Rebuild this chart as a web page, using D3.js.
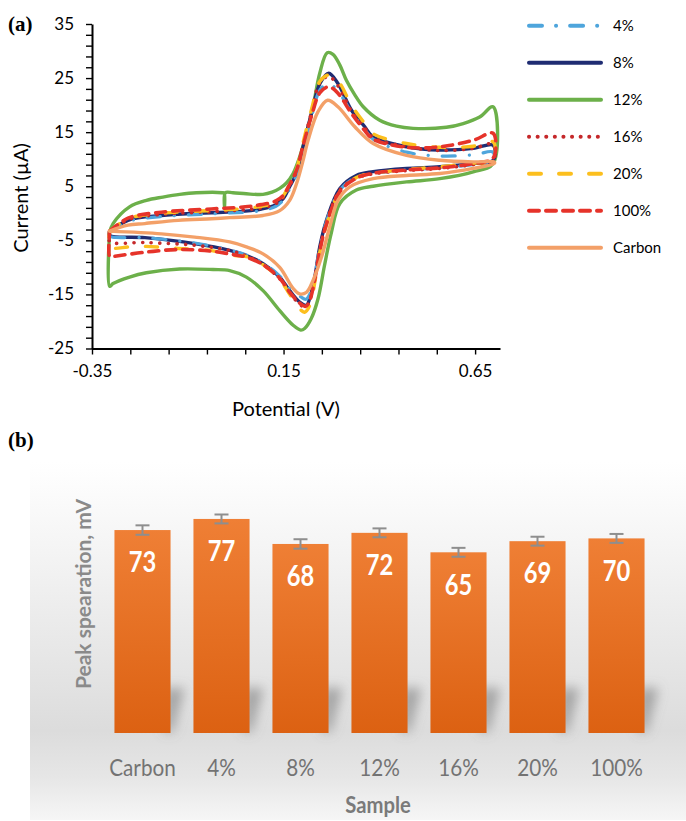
<!DOCTYPE html>
<html><head><meta charset="utf-8">
<script src="https://cdn.jsdelivr.net/npm/d3@7"></script>
<style>body{margin:0;background:#fff}svg{display:block}</style>
</head><body>
<svg id="chart" width="686" height="821"></svg>
<script>
// ---------- Panel (a) data: cyclic voltammograms [Potential (V), Current (µA)] ----------
const cv4 = [[-0.304,-3.5],[-0.256,-1.5],[-0.169,-0.6],[-0.038,-0.1],[0.092,0.5],[0.13,1.3],[0.15,2.5],[0.165,4.4],[0.184,7.2],[0.2,11.5],[0.223,17.8],[0.245,22.8],[0.266,24.0],[0.29,22.8],[0.327,18.7],[0.362,15.5],[0.384,13.7],[0.471,11.3],[0.558,10.6],[0.645,10.8],[0.697,11.3],
  [0.697,9.6],[0.645,9.0],[0.558,8.4],[0.471,8.0],[0.384,7.4],[0.34,6.7],[0.297,4.3],[0.262,-1.5],[0.2445,-6.4],[0.2315,-11.5],[0.218,-15.0],[0.208,-15.9],[0.194,-15.4],[0.166,-13.9],[0.14,-11.6],[0.0965,-9.2],[0.053,-7.7],[0.0095,-6.8],[-0.082,-5.5],[-0.212,-4.5],[-0.304,-4.2],[-0.304,-3.5]];
const cv8 = [[-0.304,-3.4],[-0.256,-1.3],[-0.169,-0.4],[-0.08,0.0],[-0.038,0.1],[0.05,0.4],[0.092,0.8],[0.13,1.6],[0.15,2.8],[0.165,4.8],[0.184,7.5],[0.2,12.0],[0.223,18.5],[0.245,24.0],[0.268,25.9],[0.292,24.0],[0.327,19.1],[0.362,16.0],[0.384,14.1],[0.471,12.3],[0.558,11.7],[0.645,12.0],[0.697,12.6],
  [0.697,9.8],[0.645,9.2],[0.558,8.6],[0.471,8.3],[0.384,7.7],[0.34,7.0],[0.297,4.6],[0.262,-1.3],[0.2445,-6.2],[0.2315,-11.8],[0.218,-15.8],[0.21,-17.0],[0.192,-16.4],[0.166,-14.3],[0.14,-11.8],[0.0965,-9.3],[0.053,-7.8],[0.0095,-6.85],[-0.082,-5.6],[-0.212,-4.5],[-0.304,-4.1],[-0.304,-3.4]];
const cv12 = [[-0.304,-3.5],[-0.295,-1.9],[-0.252,1.2],[-0.208,2.4],[-0.165,3.0],[-0.121,3.5],[-0.0775,3.8],[-0.01,3.8],[-0.005,3.7],[-0.004,1.0],[-0.002,3.8],[0.018,3.8],[0.053,3.6],[0.0965,3.5],[0.12,3.9],[0.14,4.6],[0.1575,5.6],[0.175,7.35],[0.192,10.4],[0.21,14.8],[0.227,19.7],[0.2445,25.9],[0.264,29.7],[0.279,29.4],[0.297,27.4],[0.314,24.6],[0.336,21.9],[0.358,19.7],[0.401,17.2],[0.445,16.1],[0.488,15.7],[0.575,15.9],[0.619,16.6],[0.662,17.8],[0.697,19.7],
  [0.697,9.2],[0.645,7.65],[0.558,6.4],[0.471,5.8],[0.384,5.0],[0.34,4.3],[0.297,1.8],[0.275,-3.5],[0.257,-9.6],[0.24,-15.8],[0.222,-19.5],[0.205,-21.3],[0.195,-21.6],[0.175,-20.7],[0.14,-18.0],[0.0965,-14.3],[0.053,-11.8],[0.0095,-10.6],[-0.034,-10.4],[-0.121,-10.3],[-0.208,-11.0],[-0.252,-11.8],[-0.295,-13.0],[-0.304,-13.5],[-0.304,-3.5]];
const cv16 = [[-0.304,-3.4],[-0.256,-1.2],[-0.169,-0.2],[-0.038,0.3],[0.092,1.0],[0.13,1.8],[0.15,3.0],[0.165,5.0],[0.184,7.8],[0.2,12.3],[0.223,18.7],[0.245,24.2],[0.268,25.3],[0.292,23.6],[0.327,18.9],[0.362,15.8],[0.384,14.0],[0.471,12.3],[0.558,11.6],[0.645,12.0],[0.697,12.8],
  [0.697,9.6],[0.645,9.0],[0.558,8.3],[0.471,7.9],[0.384,7.3],[0.34,6.5],[0.297,4.3],[0.262,-1.8],[0.2445,-6.7],[0.2315,-12.2],[0.218,-16.2],[0.208,-17.4],[0.192,-16.8],[0.166,-14.7],[0.14,-12.1],[0.0965,-9.5],[0.053,-7.9],[0.0095,-6.9],[-0.082,-5.9],[-0.212,-5.4],[-0.304,-5.2],[-0.304,-3.4]];
const cv20 = [[-0.304,-3.3],[-0.256,-1.0],[-0.169,0.0],[-0.038,0.5],[0.05,0.9],[0.092,1.3],[0.13,2.0],[0.15,3.3],[0.165,5.3],[0.184,8.2],[0.2,12.8],[0.223,19.2],[0.245,24.4],[0.27,25.6],[0.295,24.2],[0.327,20.0],[0.362,16.6],[0.384,14.7],[0.471,12.9],[0.558,12.2],[0.645,12.4],[0.697,13.2],
  [0.697,9.8],[0.645,9.3],[0.558,8.6],[0.471,8.1],[0.384,7.4],[0.34,6.6],[0.297,4.0],[0.262,-2.2],[0.2445,-7.2],[0.2315,-12.8],[0.22,-16.8],[0.205,-18.3],[0.19,-17.5],[0.166,-15.0],[0.14,-12.2],[0.0965,-9.5],[0.053,-8.0],[0.023,-7.8],[-0.038,-6.9],[-0.125,-6.5],[-0.23,-6.1],[-0.29,-6.5],[-0.304,-6.5],[-0.304,-3.3]];
const cv100 = [[-0.304,-3.3],[-0.256,-0.9],[-0.169,0.2],[-0.038,0.8],[0.05,1.2],[0.092,1.6],[0.13,2.3],[0.15,3.4],[0.165,5.2],[0.184,8.0],[0.2,12.2],[0.223,18.0],[0.245,22.3],[0.268,23.4],[0.292,22.2],[0.327,18.5],[0.362,15.3],[0.384,13.7],[0.471,12.2],[0.558,12.3],[0.645,13.5],[0.697,14.8],
  [0.697,10.2],[0.645,9.2],[0.558,8.4],[0.471,8.0],[0.384,7.4],[0.34,6.5],[0.297,4.0],[0.262,-2.0],[0.2445,-7.0],[0.2315,-12.2],[0.218,-16.2],[0.208,-17.2],[0.192,-16.6],[0.166,-14.6],[0.14,-12.0],[0.0965,-9.5],[0.053,-8.1],[0.031,-7.8],[-0.038,-7.0],[-0.125,-6.7],[-0.212,-7.2],[-0.299,-8.0],[-0.304,-8.0],[-0.304,-3.3]];
const cvCarbon = [[-0.304,-3.3],[-0.256,-2.2],[-0.212,-1.9],[-0.125,-1.3],[-0.038,-1.0],[0.0095,-0.8],[0.0965,-0.4],[0.14,0.5],[0.166,2.4],[0.184,5.5],[0.2,9.5],[0.214,13.5],[0.24,18.8],[0.265,20.9],[0.292,19.7],[0.336,16.0],[0.384,12.9],[0.471,10.7],[0.558,9.8],[0.645,9.5],[0.70,9.5],
  [0.70,9.2],[0.645,8.3],[0.558,7.35],[0.471,7.0],[0.384,6.4],[0.323,4.9],[0.292,2.4],[0.2706,-2.5],[0.249,-8.1],[0.227,-12.4],[0.21,-14.6],[0.192,-14.9],[0.175,-13.9],[0.14,-10.0],[0.0965,-7.5],[0.053,-6.2],[0.0095,-5.3],[-0.082,-4.4],[-0.169,-3.8],[-0.304,-3.3]];
const cvSeriesNames = ["4%","8%","12%","16%","20%","100%","Carbon"];
const currentTickLabels = [-25,-15,-5,5,15,25,35];
const potentialTickLabels = [-0.35,0.15,0.65];

// ---------- Panel (b) data ----------
const sampleLabels = ["Carbon","4%","8%","12%","16%","20%","100%"];
const peakSeparation = [73,77,68,72,65,69,70];
const peakError = [1.7,1.6,1.7,1.6,1.6,1.6,1.6];

// ---------- styles ----------
const cvStyle = {
  "4%":    {color:"#4ea5dc", dash:"13 14 0.1 14", w:3.2},
  "8%":    {color:"#1f2c72", dash:null, w:3.4},
  "12%":   {color:"#6cb04a", dash:null, w:3.4},
  "16%":   {color:"#c5282a", dash:"0.1 8.5", w:3.6},
  "20%":   {color:"#fcbf1e", dash:"12 18", w:3.4},
  "100%":  {color:"#e6332a", dash:"10 7", w:3.6},
  "Carbon":{color:"#f3a068", dash:null, w:3.4}
};
const cvData = {"4%":cv4,"8%":cv8,"12%":cv12,"16%":cv16,"20%":cv20,"100%":cv100,"Carbon":cvCarbon};
const drawOrder = ["12%","8%","4%","16%","20%","100%","Carbon"];

const svg = d3.select("#chart");
const FONT = "Lato, 'Open Sans', sans-serif";

// ================= Panel (a) =================
const x = d3.scaleLinear().domain([-0.35, 0.715]).range([92, 500]);
const y = d3.scaleLinear().domain([-25, 35]).range([348.5, 24]);
const gA = svg.append("g");

const yAxis = d3.axisLeft(y)
  .tickValues(d3.range(-25, 36, 2))
  .tickSize(6).tickSizeOuter(0).tickPadding(12)
  .tickFormat(d => currentTickLabels.includes(d) ? String(d) : "");
const yg = gA.append("g").attr("transform","translate(92,0)").call(yAxis);

const xTicks = d3.range(0, 11).map(i => +(potentialTickLabels[0] + i*0.1).toFixed(2));
const xAxis = d3.axisBottom(x)
  .tickValues(xTicks)
  .tickSize(6).tickSizeOuter(0).tickPadding(10)
  .tickFormat(d => potentialTickLabels.includes(d) ? String(d) : "");
const xg = gA.append("g").attr("transform","translate(0,348.5)").call(xAxis);

[yg, xg].forEach(g => {
  g.select(".domain").attr("stroke","#000").attr("stroke-width",2);
  g.selectAll(".tick line").attr("stroke","#000").attr("stroke-width",1.4);
  g.selectAll(".tick text").attr("fill","#000").style("font-family",FONT).style("font-size","17px");
});

gA.append("text").attr("transform","translate(28,198) rotate(-90)")
  .attr("text-anchor","middle").style("font-family",FONT).style("font-size","20px").attr("fill","#000")
  .text("Current (µA)");
gA.append("text").attr("x",286).attr("y",416)
  .attr("text-anchor","middle").style("font-family",FONT).style("font-size","20px").attr("fill","#000")
  .text("Potential (V)");
gA.append("text").attr("x",8).attr("y",31)
  .style("font-family","'Liberation Serif', 'Times New Roman', serif").style("font-weight","bold").style("font-size","21px")
  .text("(a)");

const line = d3.line().x(d => x(d[0])).y(d => y(d[1])).curve(d3.curveCatmullRom.alpha(0.5));
drawOrder.forEach(name => {
  const s = cvStyle[name];
  gA.append("path").datum(cvData[name])
    .attr("d", line).attr("fill","none")
    .attr("stroke", s.color).attr("stroke-width", s.w)
    .attr("stroke-linecap","round").attr("stroke-linejoin","round")
    .attr("stroke-dasharray", s.dash);
});

// legend
const lg = gA.append("g");
cvSeriesNames.forEach((name, i) => {
  const s = cvStyle[name];
  const yy = 25.7 + i*37;
  lg.append("line").attr("x1",529).attr("x2",601).attr("y1",yy).attr("y2",yy)
    .attr("stroke", s.color).attr("stroke-width", 4)
    .attr("stroke-linecap","round").attr("stroke-dasharray", s.dash);
  lg.append("text").attr("x",613).attr("y",yy).attr("dy","0.35em")
    .style("font-family",FONT).style("font-size","15px").attr("fill","#000").text(name);
});

// ================= Panel (b) =================
const defs = svg.append("defs");
const bg = defs.append("linearGradient").attr("id","bgGrad").attr("x1",0).attr("x2",0).attr("y1",0).attr("y2",1);
[[0,"#ffffff"],[0.25,"#f4f4f4"],[0.55,"#e6e6e6"],[0.75,"#dcdcdc"],[0.88,"#e6e6e6"],[1,"#f6f6f6"]]
  .forEach(([o,c]) => bg.append("stop").attr("offset",o).attr("stop-color",c));
const barGrad = defs.append("linearGradient").attr("id","barGrad").attr("x1",0).attr("x2",0).attr("y1",0).attr("y2",1);
barGrad.append("stop").attr("offset",0).attr("stop-color","#ef7f35");
barGrad.append("stop").attr("offset",1).attr("stop-color","#dc6112");
defs.append("filter").attr("id","blur").attr("x","-50%").attr("y","-50%").attr("width","200%").attr("height","200%")
  .append("feGaussianBlur").attr("stdDeviation",6);

const gB = svg.append("g");
gB.append("rect").attr("x",30).attr("y",462).attr("width",656).attr("height",358).attr("fill","url(#bgGrad)");

const xb = d3.scaleBand().domain(sampleLabels).range([103, 656]).paddingInner(0.29).paddingOuter(0.145);
const yb = d3.scaleLinear().domain([0, 80]).range([733, 510.6]);

// shadows
gB.append("g").attr("filter","url(#blur)").selectAll("polygon").data(sampleLabels).join("polygon")
  .attr("points", d => {
    const x1 = xb(d) + xb.bandwidth();
    return [[x1-6,732],[x1-6,688],[x1+14,688],[x1+2,732]].map(p => p.join(",")).join(" ");
  })
  .attr("fill","#7a7a7a").attr("opacity",0.6);

gB.selectAll("rect.bar").data(sampleLabels).join("rect").attr("class","bar")
  .attr("x", d => xb(d)).attr("width", xb.bandwidth())
  .attr("y", (d,i) => yb(peakSeparation[i])).attr("height", (d,i) => yb(0) - yb(peakSeparation[i]))
  .attr("fill","url(#barGrad)");

// error bars
const eg = gB.append("g").attr("stroke","#8e8e8e").attr("stroke-width",2);
sampleLabels.forEach((d,i) => {
  const cx = xb(d) + xb.bandwidth()/2;
  const y0 = yb(peakSeparation[i] - peakError[i]), y1 = yb(peakSeparation[i] + peakError[i]);
  eg.append("line").attr("x1",cx).attr("x2",cx).attr("y1",y0).attr("y2",y1);
  eg.append("line").attr("x1",cx-7).attr("x2",cx+7).attr("y1",y0).attr("y2",y0);
  eg.append("line").attr("x1",cx-7).attr("x2",cx+7).attr("y1",y1).attr("y2",y1);
});

// value labels
sampleLabels.forEach((d,i) => {
  const cx = xb(d) + xb.bandwidth()/2;
  gB.append("text").attr("transform",`translate(${cx},${yb(peakSeparation[i]) + 32}) scale(0.88,1.05)`)
    .attr("text-anchor","middle").attr("dy","0.36em")
    .style("font-family",FONT).style("font-weight","bold").style("font-size","27px").attr("fill","#fff")
    .text(peakSeparation[i]);
});

// category labels
sampleLabels.forEach(d => {
  const cx = xb(d) + xb.bandwidth()/2;
  gB.append("text").attr("transform",`translate(${cx},776) scale(0.9,1)`)
    .attr("text-anchor","middle")
    .style("font-family",FONT).style("font-size","23px").attr("fill","#737373").text(d);
});

gB.append("text").attr("transform","translate(378,813) scale(0.88,1)").attr("text-anchor","middle")
  .style("font-family",FONT).style("font-weight","bold").style("font-size","23px").attr("fill","#7a7a7a").text("Sample");
gB.append("text").attr("transform","translate(91,594) rotate(-90)").attr("text-anchor","middle")
  .style("font-family",FONT).style("font-weight","bold").style("font-size","21px").attr("fill","#8a8a8a").text("Peak spearation, mV");
gB.append("text").attr("x",8).attr("y",447)
  .style("font-family","'Liberation Serif', 'Times New Roman', serif").style("font-weight","bold").style("font-size","21px")
  .text("(b)");
</script>
</body></html>
